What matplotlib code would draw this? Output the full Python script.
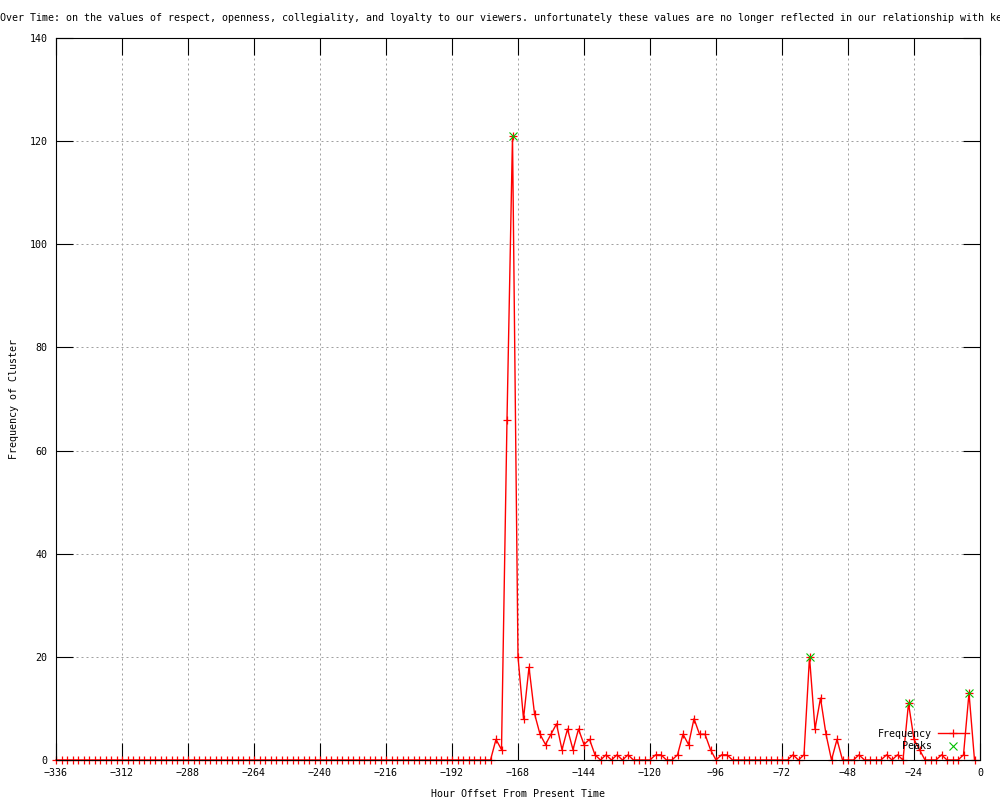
import matplotlib
matplotlib.use('Agg')
import matplotlib.pyplot as plt
import numpy as np

plt.rcParams['font.family'] = ['DejaVu Sans Mono']
plt.rcParams['font.size'] = 7.2

# hour offsets, one bin every 2 hours
hours = np.arange(-336, 0, 2)

# frequency per bin (-336 ... -2)
freq = [
    0, 0, 0, 0, 0, 0, 0, 0, 0, 0, 0, 0,      # -336 .. -314
    0, 0, 0, 0, 0, 0, 0, 0, 0, 0, 0, 0,      # -312 .. -290
    0, 0, 0, 0, 0, 0, 0, 0, 0, 0, 0, 0,      # -288 .. -266
    0, 0, 0, 0, 0, 0, 0, 0, 0, 0, 0, 0,      # -264 .. -242
    0, 0, 0, 0, 0, 0, 0, 0, 0, 0, 0, 0,      # -240 .. -218
    0, 0, 0, 0, 0, 0, 0, 0, 0, 0, 0, 0,      # -216 .. -194
    0, 0, 0, 0, 0, 0, 0, 0, 4, 2, 66, 121,   # -192 .. -170
    20, 8, 18, 9, 5, 3, 5, 7, 2, 6, 2, 6,    # -168 .. -146
    3, 4, 1, 0, 1, 0, 1, 0, 1, 0, 0, 0,      # -144 .. -122
    0, 1, 1, 0, 0, 1, 5, 3, 8, 5, 5, 2,      # -120 .. -98
    0, 1, 1, 0, 0, 0, 0, 0, 0, 0, 0, 0,      # -96 .. -74
    0, 0, 1, 0, 1, 20, 6, 12, 5, 0, 4, 0,    # -72 .. -50
    0, 0, 1, 0, 0, 0, 0, 1, 0, 1, 0, 11,     # -48 .. -26
    4, 2, 0, 0, 0, 1, 0, 0, 0, 1, 13, 0,     # -24 .. -2
]

# local peaks
peak_hours = [-170, -62, -26, -4]
peak_vals = [121, 20, 11, 13]

xticks = list(range(-336, 1, 24))
yticks = list(range(0, 141, 20))

fig = plt.figure(figsize=(10, 8), dpi=100)
ax = fig.add_axes([0.056, 0.05, 0.924, 0.9025])

ax.plot(hours, freq, color='red', lw=1.0, marker='+', ms=5.2, mew=0.9,
        clip_on=False, label='Frequency', zorder=2)
ax.plot(peak_hours, peak_vals, ls='none', color='#00c000', marker='x',
        ms=5.2, mew=0.8, clip_on=False, label='Peaks', zorder=3)

ax.set_xlim(-336, 0)
ax.set_ylim(0, 140)
ax.set_xticks(xticks)
ax.set_yticks(yticks)
ax.tick_params(direction='in', length=12, width=0.8, top=True, right=True,
               labelsize=7.2, pad=6)
ax.grid(True, color='#a0a0a0', lw=0.72, ls=(0, (2, 3)))
for s in ax.spines.values():
    s.set_linewidth(0.8)

ax.set_xlabel('Hour Offset From Present Time', fontsize=7.2, labelpad=8)
ax.set_ylabel('Frequency of Cluster', fontsize=7.2, labelpad=7.5)

fig.text(0.0, 0.977, 'Over Time: on the values of respect, openness, collegiality, '
         'and loyalty to our viewers. unfortunately these values are no longer '
         'reflected in our relationship with ke', ha='left', va='center',
         fontsize=7.2)

ax.legend(loc='lower right', bbox_to_anchor=(0.993, 0.005), frameon=False,
          markerfirst=False, handlelength=3.1, handletextpad=0.6,
          labelspacing=0.25, borderpad=0, fontsize=7.2)

fig.savefig('out.png', dpi=100)
